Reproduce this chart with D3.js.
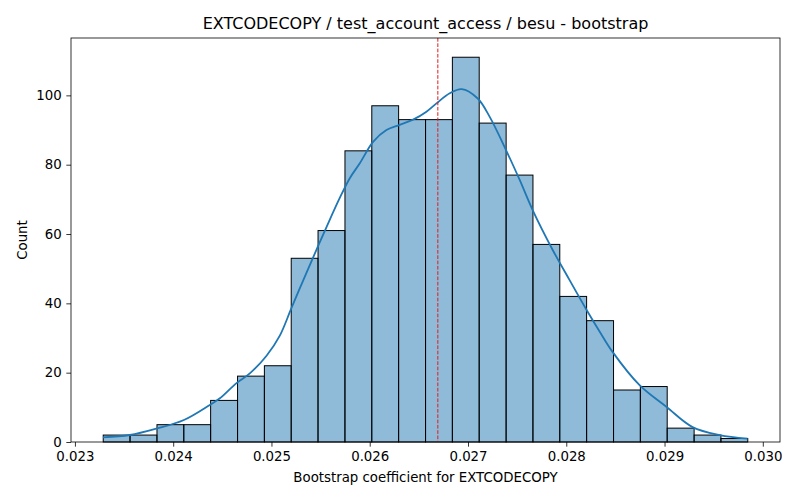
<!DOCTYPE html>
<html>
  <head>
    <meta charset="utf-8" />
    <style>
      body {
        margin: 0;
        background: white;
        font-family: 'DejaVu Sans', sans-serif;
      }
      .axis text {
        font-family: 'DejaVu Sans', sans-serif;
        font-size: 13.33px;
        fill: black;
      }
      .axis line {
        stroke: black;
        stroke-width: 0.8;
      }
    </style>
  </head>
  <body>
    <script src="https://d3js.org/d3.v7.min.js"></script>
    <svg id="chart"></svg>
    <script>
      var width = 800;
      var height = 500;

      // histogram bin edges and counts
      var binEdges = [
        0.023288, 0.023561, 0.023835, 0.024108, 0.024381, 0.024655, 0.024928,
        0.025201, 0.025474, 0.025748, 0.026021, 0.026294, 0.026568, 0.026841,
        0.027114, 0.027388, 0.027661, 0.027934, 0.028207, 0.028481, 0.028754,
        0.029027, 0.029301, 0.029574, 0.029847
      ];
      var counts = [
        2, 2, 5, 5, 12, 19, 22, 53, 61, 84, 97, 93, 93, 111, 92, 77, 57, 42,
        35, 15, 16, 4, 2, 1
      ];

      // kde curve
      var kdeX = [
        0.023285, 0.023559, 0.023834, 0.024109, 0.024373, 0.024475, 0.024644,
        0.02478, 0.02495, 0.025085, 0.025204, 0.025356, 0.025474, 0.02556,
        0.025695, 0.025797, 0.025899, 0.026034, 0.02617, 0.026305, 0.026441,
        0.026577, 0.026679, 0.026814, 0.026936, 0.027099, 0.027221, 0.027394,
        0.027526, 0.027658, 0.027862, 0.028034, 0.028207, 0.028339, 0.028471,
        0.028746, 0.029021, 0.029285, 0.02956, 0.029845
      ];
      var kdeY = [
        1.36, 2.02, 3.9, 6.35, 10.7, 12.6, 17.0, 19.8, 24.9, 30.7, 38.7, 48.8,
        56.5, 62.0, 70.4, 76.1, 80.4, 86.6, 90.0, 91.5, 93.0, 95.3, 97.7,
        100.6, 101.8, 99.1, 93.8, 83.8, 75.6, 66.9, 55.4, 46.7, 38.1, 31.9,
        26.0, 16.4, 10.1, 4.3, 2.0, 1.0
      ];

      var meanLine = 0.026693;
      var xTicks = [0.023, 0.024, 0.025, 0.026, 0.027, 0.028, 0.029, 0.03];
      var yTicks = [0, 20, 40, 60, 80, 100];

      var margin = { left: 71, right: 20, top: 38, bottom: 58 };
      var plotW = width - margin.left - margin.right;
      var plotH = height - margin.top - margin.bottom;

      var svg = d3
        .select("#chart")
        .attr("width", width)
        .attr("height", height);

      var span = binEdges[binEdges.length - 1] - binEdges[0];
      var x = d3
        .scaleLinear()
        .domain([binEdges[0] - span * 0.05, binEdges[binEdges.length - 1] + span * 0.05])
        .range([0, plotW]);

      var y = d3
        .scaleLinear()
        .domain([0, d3.max(counts) * 1.05])
        .range([plotH, 0]);

      var g = svg
        .append("g")
        .attr("transform", "translate(" + margin.left + "," + margin.top + ")");

      // bars
      g.selectAll(".bar")
        .data(counts)
        .enter()
        .append("rect")
        .attr("class", "bar")
        .attr("x", function (d, i) {
          return x(binEdges[i]);
        })
        .attr("width", function (d, i) {
          return x(binEdges[i + 1]) - x(binEdges[i]);
        })
        .attr("y", function (d) {
          return y(d);
        })
        .attr("height", function (d) {
          return plotH - y(d);
        })
        .attr("fill", "#1f77b4")
        .attr("fill-opacity", 0.5)
        .attr("stroke", "black")
        .attr("stroke-width", 1);

      // kde
      var line = d3
        .line()
        .x(function (d, i) {
          return x(kdeX[i]);
        })
        .y(function (d) {
          return y(d);
        })
        .curve(d3.curveCatmullRom.alpha(0.5));

      g.append("path")
        .datum(kdeY)
        .attr("d", line)
        .attr("fill", "none")
        .attr("stroke", "#1f77b4")
        .attr("stroke-width", 1.8);

      // dashed vertical line
      g.append("line")
        .attr("x1", x(meanLine))
        .attr("x2", x(meanLine))
        .attr("y1", 0)
        .attr("y2", plotH)
        .attr("stroke", "#e31a1c")
        .attr("stroke-width", 1)
        .attr("stroke-dasharray", "3.7,1.6");

      // axes
      var xAxis = d3
        .axisBottom(x)
        .tickValues(xTicks)
        .tickFormat(d3.format(".3f"))
        .tickSizeInner(4.67)
        .tickSizeOuter(0)
        .tickPadding(4.67);

      var gx = g
        .append("g")
        .attr("class", "axis")
        .attr("transform", "translate(0," + plotH + ")")
        .call(xAxis);
      gx.select(".domain").remove();

      var yAxis = d3
        .axisLeft(y)
        .tickValues(yTicks)
        .tickSizeInner(4.67)
        .tickSizeOuter(0)
        .tickPadding(4.67);

      var gy = g.append("g").attr("class", "axis").call(yAxis);
      gy.select(".domain").remove();

      // frame
      g.append("rect")
        .attr("x", 0)
        .attr("y", 0)
        .attr("width", plotW)
        .attr("height", plotH)
        .attr("fill", "none")
        .attr("stroke", "black")
        .attr("stroke-width", 0.8);

      // title and labels
      svg
        .append("text")
        .attr("x", margin.left + plotW / 2)
        .attr("y", 29)
        .attr("text-anchor", "middle")
        .style("font-size", "16px")
        .text("EXTCODECOPY / test_account_access / besu - bootstrap");

      svg
        .append("text")
        .attr("x", margin.left + plotW / 2)
        .attr("y", 482)
        .attr("text-anchor", "middle")
        .style("font-size", "13.33px")
        .text("Bootstrap coefficient for EXTCODECOPY");

      svg
        .append("text")
        .attr("transform", "translate(26.5," + (margin.top + plotH / 2) + ") rotate(-90)")
        .attr("text-anchor", "middle")
        .style("font-size", "13.33px")
        .text("Count");
    </script>
  </body>
</html>
